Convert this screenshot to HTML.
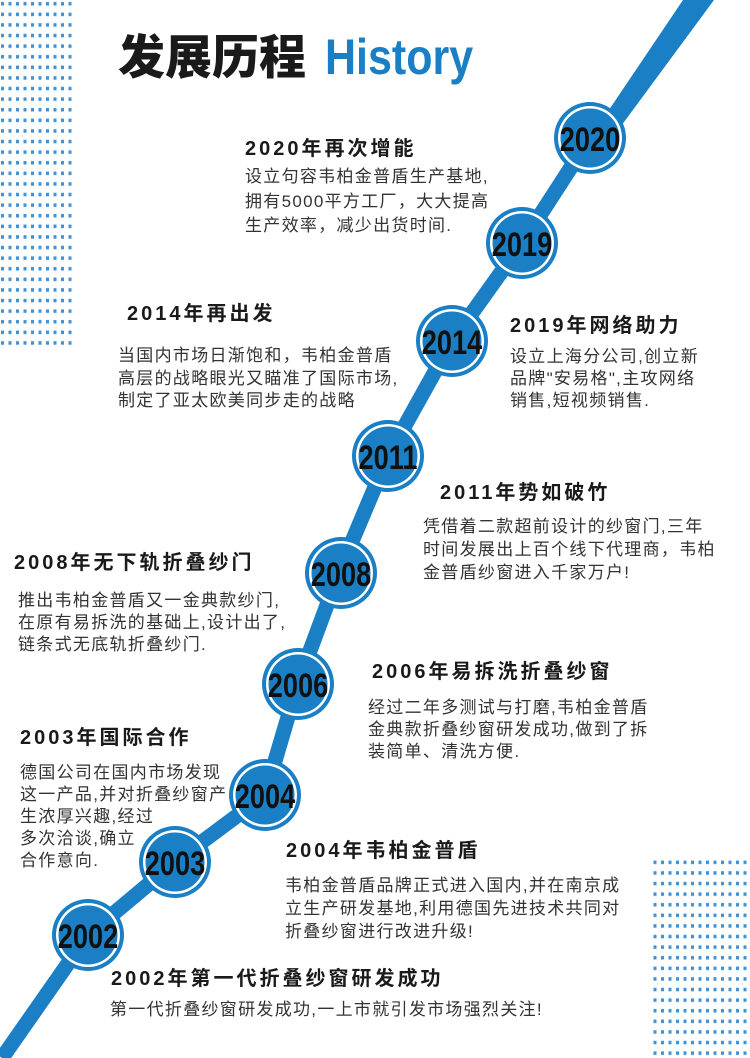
<!DOCTYPE html>
<html><head><meta charset="utf-8"><style>
html,body{margin:0;padding:0;background:#fff;}
svg{display:block}
.h{font-family:"Liberation Sans","Noto Sans CJK SC",sans-serif;font-weight:bold;font-size:20px;fill:#1a1a1a;letter-spacing:3px}
.t{font-family:"Liberation Sans","Noto Sans CJK SC",sans-serif;font-size:17px;fill:#333;letter-spacing:1.3px}
.y{font-family:"Liberation Sans",sans-serif;font-weight:bold;font-size:34px;fill:#111}
</style></head><body>
<svg width="750" height="1058" viewBox="0 0 750 1058" xmlns="http://www.w3.org/2000/svg">
<defs>
<pattern id="d" width="7.5" height="10.6" patternUnits="userSpaceOnUse"><rect x="1" y="2" width="3" height="3.5" fill="#3d92d8"/></pattern>
</defs>
<rect x="0" y="0" width="72" height="346" fill="url(#d)"/>
<rect x="652" y="857" width="98" height="201" fill="url(#d)"/>
<polygon points="683,0 714,0 596,160 582,150" fill="#1a7fc4"/>
<polyline points="590,138 522,243 452,341 388,456 340,570 298,683 265,795 175,862 88,935 2,1058" fill="none" stroke="#1a7fc4" stroke-width="15"/>
<g>
<g transform="translate(590,138)"><circle r="36" fill="#1a7fc4"/><circle r="32" fill="#fff"/><circle r="29.5" fill="#1a7fc4"/><text class="y" text-anchor="middle" y="13" transform="scale(0.8,1)">2020</text></g>
<g transform="translate(522,243)"><circle r="36" fill="#1a7fc4"/><circle r="32" fill="#fff"/><circle r="29.5" fill="#1a7fc4"/><text class="y" text-anchor="middle" y="13" transform="scale(0.8,1)">2019</text></g>
<g transform="translate(452,341)"><circle r="36" fill="#1a7fc4"/><circle r="32" fill="#fff"/><circle r="29.5" fill="#1a7fc4"/><text class="y" text-anchor="middle" y="13" transform="scale(0.8,1)">2014</text></g>
<g transform="translate(388,456)"><circle r="36" fill="#1a7fc4"/><circle r="32" fill="#fff"/><circle r="29.5" fill="#1a7fc4"/><text class="y" text-anchor="middle" y="13" transform="scale(0.8,1)">2011</text></g>
<g transform="translate(341,573)"><circle r="36" fill="#1a7fc4"/><circle r="32" fill="#fff"/><circle r="29.5" fill="#1a7fc4"/><text class="y" text-anchor="middle" y="13" transform="scale(0.8,1)">2008</text></g>
<g transform="translate(298,684)"><circle r="36" fill="#1a7fc4"/><circle r="32" fill="#fff"/><circle r="29.5" fill="#1a7fc4"/><text class="y" text-anchor="middle" y="13" transform="scale(0.8,1)">2006</text></g>
<g transform="translate(265,795)"><circle r="36" fill="#1a7fc4"/><circle r="32" fill="#fff"/><circle r="29.5" fill="#1a7fc4"/><text class="y" text-anchor="middle" y="13" transform="scale(0.8,1)">2004</text></g>
<g transform="translate(175,862)"><circle r="36" fill="#1a7fc4"/><circle r="32" fill="#fff"/><circle r="29.5" fill="#1a7fc4"/><text class="y" text-anchor="middle" y="13" transform="scale(0.8,1)">2003</text></g>
<g transform="translate(88,935)"><circle r="36" fill="#1a7fc4"/><circle r="32" fill="#fff"/><circle r="29.5" fill="#1a7fc4"/><text class="y" text-anchor="middle" y="13" transform="scale(0.8,1)">2002</text></g>
</g>
<text x="118" y="74" font-family="'Noto Sans CJK SC',sans-serif" font-weight="900" font-size="47" fill="#1a1a1a">发展历程</text>
<text x="0" y="74" font-family="'Liberation Sans',sans-serif" font-weight="bold" font-size="50" fill="#1a7fc4" transform="translate(325,0) scale(0.86,1)">History</text>

<text class="h" x="245" y="155">2020年再次增能</text>
<text class="t" x="245" y="182">设立句容韦柏金普盾生产基地,</text>
<text class="t" x="245" y="207">拥有5000平方工厂，大大提高</text>
<text class="t" x="245" y="231">生产效率，减少出货时间.</text>

<text class="h" x="127" y="320">2014年再出发</text>
<text class="t" x="118" y="361">当国内市场日渐饱和，韦柏金普盾</text>
<text class="t" x="118" y="384">高层的战略眼光又瞄准了国际市场,</text>
<text class="t" x="118" y="406">制定了亚太欧美同步走的战略</text>

<text class="h" x="510" y="332">2019年网络助力</text>
<text class="t" x="510" y="362">设立上海分公司,创立新</text>
<text class="t" x="510" y="384">品牌"安易格",主攻网络</text>
<text class="t" x="510" y="406">销售,短视频销售.</text>

<text class="h" x="440" y="499">2011年势如破竹</text>
<text class="t" x="423" y="532">凭借着二款超前设计的纱窗门,三年</text>
<text class="t" x="423" y="555">时间发展出上百个线下代理商，韦柏</text>
<text class="t" x="423" y="578">金普盾纱窗进入千家万户!</text>

<text class="h" x="14" y="569">2008年无下轨折叠纱门</text>
<text class="t" x="18" y="606">推出韦柏金普盾又一金典款纱门,</text>
<text class="t" x="18" y="628">在原有易拆洗的基础上,设计出了,</text>
<text class="t" x="18" y="650">链条式无底轨折叠纱门.</text>

<text class="h" x="372" y="678">2006年易拆洗折叠纱窗</text>
<text class="t" x="368" y="713">经过二年多测试与打磨,韦柏金普盾</text>
<text class="t" x="368" y="735">金典款折叠纱窗研发成功,做到了拆</text>
<text class="t" x="368" y="757">装简单、清洗方便.</text>

<text class="h" x="20" y="744">2003年国际合作</text>
<text class="t" x="20" y="778">德国公司在国内市场发现</text>
<text class="t" x="20" y="800">这一产品,并对折叠纱窗产</text>
<text class="t" x="20" y="822">生浓厚兴趣,经过</text>
<text class="t" x="20" y="844">多次洽谈,确立</text>
<text class="t" x="20" y="866">合作意向.</text>

<text class="h" x="286" y="857">2004年韦柏金普盾</text>
<text class="t" x="285" y="891">韦柏金普盾品牌正式进入国内,并在南京成</text>
<text class="t" x="285" y="914">立生产研发基地,利用德国先进技术共同对</text>
<text class="t" x="285" y="937">折叠纱窗进行改进升级!</text>

<text class="h" x="111" y="985">2002年第一代折叠纱窗研发成功</text>
<text class="t" x="110" y="1015">第一代折叠纱窗研发成功,一上市就引发市场强烈关注!</text>
</svg>
</body></html>
